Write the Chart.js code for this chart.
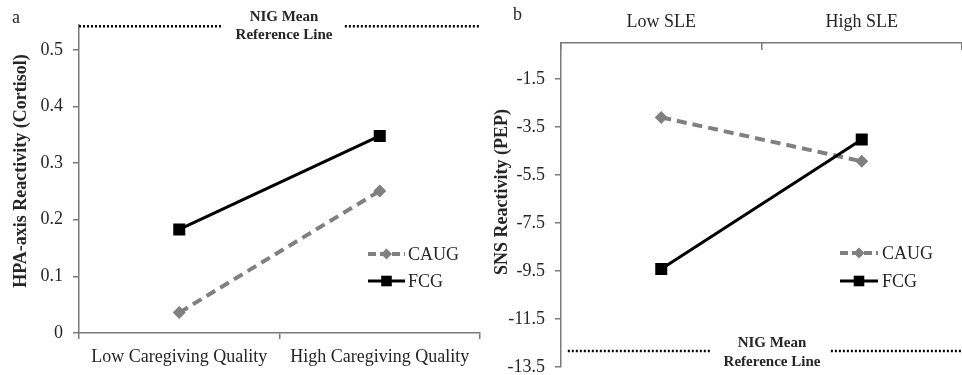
<!DOCTYPE html>
<html>
<head>
<meta charset="utf-8">
<script src="https://cdn.jsdelivr.net/npm/chart.js@4"></script>
<style>
  html, body { margin: 0; padding: 0; background: #fff; }
  #wrap { position: relative; width: 962px; height: 375px; }
  .panel { position: absolute; top: 0; width: 481px; height: 375px; }
</style>
</head>
<body>
<div id="wrap">
  <div class="panel" style="left:0"><canvas id="chartA" width="481" height="375"></canvas></div>
  <div class="panel" style="left:481px"><canvas id="chartB" width="481" height="375"></canvas></div>
</div>
<script>
// panel a - HPA axis (cortisol)
const caregivingLabels = ["Low Caregiving Quality", "High Caregiving Quality"];
const hpaCaug = [0.036, 0.251];
const hpaFcg = [0.183, 0.348];
const hpaTicks = [0, 0.1, 0.2, 0.3, 0.4, 0.5];
const hpaNigMean = 0.542;

// panel b - SNS (PEP)
const sleLabels = ["Low SLE", "High SLE"];
const pepCaug = [-3.1, -4.93];
const pepFcg = [-9.42, -4.02];
const pepTicks = [-13.5, -11.5, -9.5, -7.5, -5.5, -3.5, -1.5];
const pepNigMean = -12.83;

const seriesNames = ["CAUG", "FCG"];

const SERIF = "'Liberation Serif', 'Times New Roman', serif";
const GRAY = "#808080";
const AXIS = "#7a7a7a";
const TEXT = "#262626";

// dotted reference line, with a gap where its label sits (x on a hidden 0..1 axis)
function refPoints(level, span) {
  return [
    { x: span[0], y: level }, { x: span[1], y: level },
    { x: (span[1] + span[2]) / 2, y: null },
    { x: span[2], y: level }, { x: 1, y: level }
  ];
}

function drawSymbol(ctx, ds, x1, x2, y) {
  ctx.save();
  ctx.strokeStyle = ds.borderColor;
  ctx.fillStyle = ds.backgroundColor;
  ctx.lineWidth = ds.borderWidth;
  ctx.setLineDash(ds.borderDash ? [8, 4] : []);
  ctx.beginPath();
  ctx.moveTo(x1, y);
  ctx.lineTo(x2, y);
  ctx.stroke();
  ctx.setLineDash([]);
  Chart.helpers.drawPoint(ctx, { pointStyle: ds.pointStyle, radius: ds.pointRadius - 1, borderWidth: 0 }, (x1 + x2) / 2, y);
  ctx.restore();
}

const extrasPlugin = {
  id: "extras",
  afterDraw(chart, args, opts) {
    const ctx = chart.ctx;
    const y = chart.scales.y;
    ctx.save();
    ctx.fillStyle = TEXT;
    ctx.textBaseline = "middle";

    // panel letter
    ctx.font = "18px " + SERIF;
    ctx.textAlign = "left";
    ctx.fillText(opts.letter, opts.letterPos[0], opts.letterPos[1]);

    // y axis title
    ctx.save();
    ctx.translate(opts.titlePos[0], opts.titlePos[1]);
    ctx.rotate(-Math.PI / 2);
    ctx.textAlign = "center";
    ctx.font = "bold 18px " + SERIF;
    ctx.fillText(opts.title, 0, 0);
    ctx.restore();

    // reference line label
    const ry = y.getPixelForValue(opts.nig);
    ctx.font = "bold 15px " + SERIF;
    ctx.textAlign = "center";
    ctx.fillText("NIG Mean", opts.refX, ry + opts.refDy[0]);
    ctx.fillText("Reference Line", opts.refX, ry + opts.refDy[1]);

    // legend
    ctx.font = "18px " + SERIF;
    ctx.textAlign = "left";
    seriesNames.forEach((name, i) => {
      const ds = chart.data.datasets[i];
      const ly = opts.legendY[i];
      drawSymbol(ctx, ds, opts.legendX[0], opts.legendX[1], ly);
      ctx.fillStyle = TEXT;
      ctx.fillText(name, opts.legendX[2], ly + 1);
    });
    ctx.restore();
  }
};

function makePanel(id, cfg) {
  const ctx = document.getElementById(id).getContext("2d");
  return new Chart(ctx, {
    type: "line",
    data: {
      labels: cfg.labels,
      datasets: [
        {
          label: seriesNames[0],
          data: cfg.caug,
          borderColor: GRAY,
          backgroundColor: GRAY,
          borderWidth: 4,
          borderDash: [10, 6],
          pointStyle: "rectRot",
          pointRadius: 6.5,
          pointBorderWidth: 0,
          order: 1
        },
        {
          label: seriesNames[1],
          data: cfg.fcg,
          borderColor: "#000",
          backgroundColor: "#000",
          borderWidth: 3,
          pointStyle: "rect",
          pointRadius: 8.5,
          pointBorderWidth: 0,
          order: 0
        },
        {
          label: "NIG",
          data: refPoints(cfg.nig, cfg.span),
          xAxisID: "xr",
          borderColor: "#000",
          borderWidth: 2.5,
          borderDash: [2, 2],
          pointRadius: 0,
          spanGaps: false,
          order: 2
        }
      ]
    },
    options: {
      responsive: false,
      animation: false,
      events: [],
      layout: { padding: cfg.padding, autoPadding: false },
      plugins: {
        legend: { display: false },
        tooltip: { enabled: false },
        extras: cfg.extras
      },
      scales: {
        x: {
          type: "category",
          position: cfg.xPos,
          offset: true,
          grid: { offset: true, drawOnChartArea: false, tickLength: cfg.xTick, color: AXIS, lineWidth: 1.5 },
          border: { color: AXIS, width: 1.5 },
          ticks: { font: { family: SERIF, size: 18 }, color: TEXT, padding: cfg.xPad, maxRotation: 0 },
          afterFit: (s) => {
            s.height = cfg.xHeight;
            s.paddingLeft = 0;
            s.paddingRight = 0;
          }
        },
        xr: { type: "linear", display: false, min: 0, max: 1 },
        y: {
          min: cfg.min,
          max: cfg.max,
          grid: { drawOnChartArea: false, tickLength: 6, color: AXIS, lineWidth: 1.5 },
          border: { color: AXIS, width: 1.5 },
          ticks: { font: { family: SERIF, size: 18 }, color: TEXT, padding: 10, callback: (v) => String(v) },
          afterBuildTicks: (s) => { s.ticks = cfg.ticks.map((v) => ({ value: v })); },
          afterFit: (s) => {
            s.width = cfg.yWidth;
            s.paddingTop = 0;
            s.paddingBottom = 0;
          }
        }
      }
    },
    plugins: [extrasPlugin]
  });
}

makePanel("chartA", {
  labels: caregivingLabels, caug: hpaCaug, fcg: hpaFcg, ticks: hpaTicks, nig: hpaNigMean,
  min: 0, max: 0.544, span: [0, 0.357, 0.663],
  xPos: "bottom", xTick: 6, xPad: 7, xHeight: 42, yWidth: 79,
  padding: { top: 25, right: 1, bottom: 0, left: 0 },
  extras: {
    letter: "a", letterPos: [12, 18], title: "HPA-axis Reactivity (Cortisol)", titlePos: [21, 171],
    nig: hpaNigMean, refX: 284, refDy: [-9, 9],
    legendX: [368, 405, 408], legendY: [254, 281]
  }
});

makePanel("chartB", {
  labels: sleLabels, caug: pepCaug, fcg: pepFcg, ticks: pepTicks, nig: pepNigMean,
  min: -13.5, max: 0, span: [0.017, 0.372, 0.673],
  xPos: "top", xTick: -7, xPad: 17, xHeight: 43, yWidth: 80,
  padding: { top: 0, right: 0, bottom: 8, left: 0 },
  extras: {
    letter: "b", letterPos: [32, 15], title: "SNS Reactivity (PEP)", titlePos: [21, 192],
    nig: pepNigMean, refX: 291, refDy: [-8, 11],
    legendX: [359, 397, 401], legendY: [253, 281]
  }
});
</script>
</body>
</html>
